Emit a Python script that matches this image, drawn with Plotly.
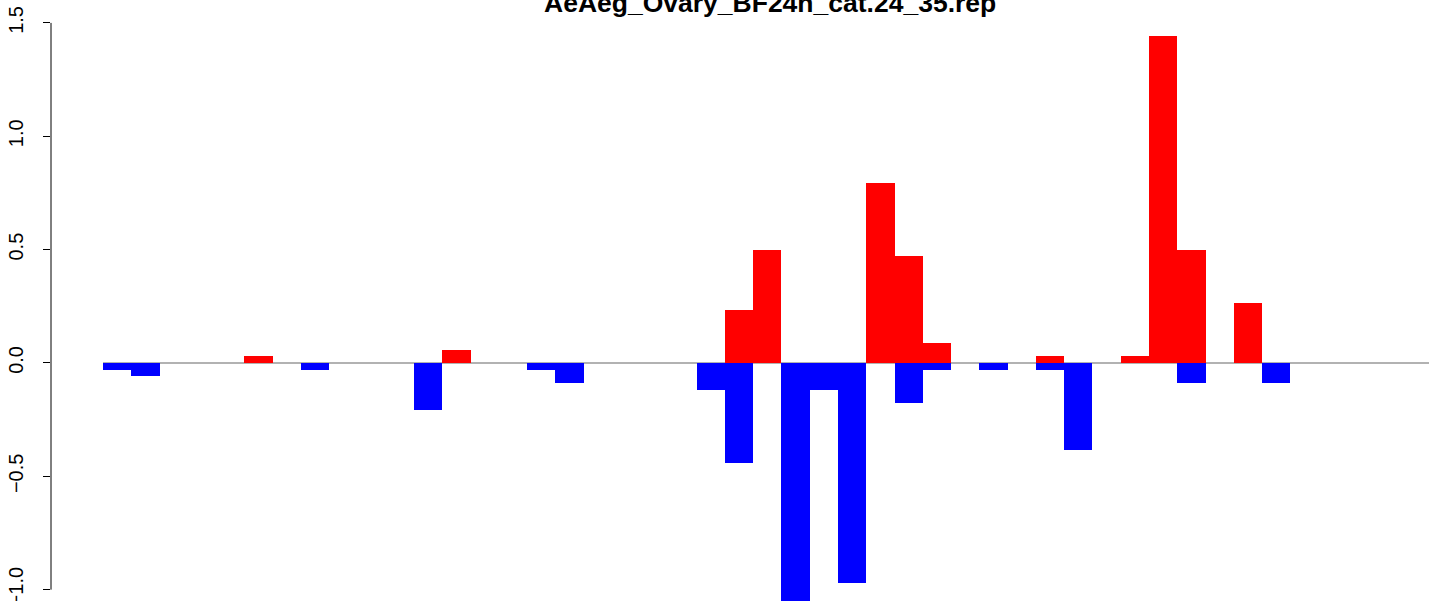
import plotly.graph_objects as go

# Valores (barras rojas hacia arriba, azules hacia abajo)
posiciones = list(range(46))
subida = [0, 0, 0, 0, 0, 0.029, 0, 0, 0, 0,
          0, 0, 0.059, 0, 0, 0, 0, 0, 0, 0,
          0, 0, 0.235, 0.5, 0, 0, 0, 0.794, 0.471, 0.088,
          0, 0, 0, 0.029, 0, 0, 0.029, 1.441, 0.5, 0,
          0.265, 0, 0, 0, 0, 0]
bajada = [-0.029, -0.059, 0, 0, 0, 0, 0, -0.029, 0, 0,
          0, -0.206, 0, 0, 0, -0.029, -0.088, 0, 0, 0,
          0, -0.118, -0.441, 0, -1.06, -0.118, -0.971, 0, -0.176, -0.029,
          0, -0.029, 0, -0.029, -0.382, 0, 0, 0, -0.088, 0,
          0, -0.088, 0, 0, 0, 0]
marcas_y = [-1.0, -0.5, 0.0, 0.5, 1.0, 1.5]
etiquetas_y = ['\u22121.0', '\u22120.5', '0.0', '0.5', '1.0', '1.5']
titulo = 'AeAeg_Ovary_BF24h_cat.24_35.rep'

fig = go.Figure()
fig.add_trace(go.Bar(x=posiciones, y=subida, width=1, marker=dict(color='#FF0000', line=dict(width=0))))
fig.add_trace(go.Bar(x=posiciones, y=bajada, width=1, marker=dict(color='#0000FF', line=dict(width=0))))

# linea gris en cero, desde la primera barra
fig.add_shape(type='line', xref='x', yref='y', x0=-0.5, x1=len(posiciones) + 5, y0=0, y1=0,
              line=dict(color='#999999', width=1.6), layer='below')
# eje y estilo R: solo entre la primera y la ultima marca
fig.add_shape(type='line', xref='paper', yref='y', x0=0, x1=0, y0=marcas_y[0], y1=marcas_y[-1],
              line=dict(color='black', width=1))

fig.add_annotation(text='<b>' + titulo + '</b>', xref='paper', yref='paper', x=(770 - 51) / (1429 - 51),
                   y=1 - 20 / 601, xanchor='center', yanchor='bottom', showarrow=False,
                   font=dict(family='Liberation Sans', size=26.5, color='black'))

fig.update_layout(
    width=1429, height=601,
    margin=dict(l=51, r=0, t=0, b=0),
    plot_bgcolor='white', paper_bgcolor='white',
    barmode='overlay', bargap=0, showlegend=False,
    font=dict(family='Liberation Sans', color='black'),
    hovermode=False,
)
fig.update_xaxes(range=[-2.339, 46.405], visible=False, automargin=False)
fig.update_yaxes(range=[-1.050, 1.601], tickvals=marcas_y, ticktext=etiquetas_y,
                 tickangle=-90, ticks='outside', ticklen=7, tickwidth=1, tickcolor='black',
                 showgrid=False, zeroline=False, showline=False, ticklabelstandoff=12,
                 ticklabeloverflow='allow', automargin=False,
                 tickfont=dict(size=20, family='Liberation Sans'))

fig.write_html('out.html', config={'displayModeBar': False},
               post_script="document.body.style.margin='0px';")
